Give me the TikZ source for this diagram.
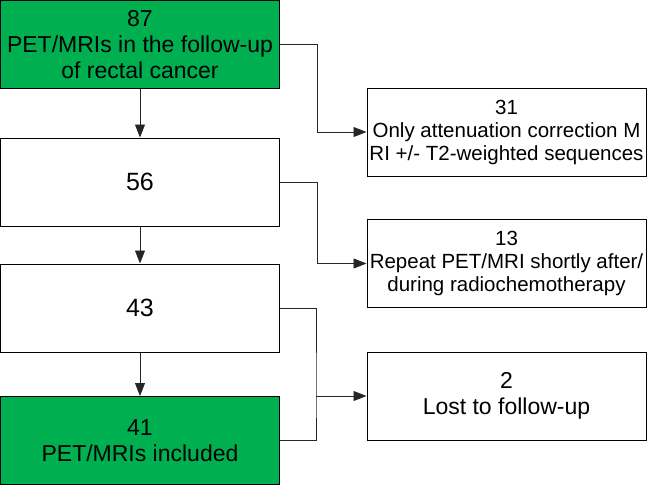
\documentclass[tikz,border=0pt]{standalone}
\usepackage{fontspec}
\setmainfont{Liberation Sans}
\usetikzlibrary{arrows.meta}
\definecolor{boxgreen}{HTML}{00B050}
\begin{document}
\begin{tikzpicture}[
            x=1pt, y=1pt,
            stage/.style={draw=black, line width=1pt, minimum width=279pt, minimum height=88pt,
                inner sep=0pt, align=center, font=\fontsize{23}{26}\selectfont},
            count/.style={stage, font=\fontsize{25}{28}\selectfont},
            kept/.style={stage, fill=boxgreen},
            excluded/.style={stage, font=\fontsize{20.5}{23}\selectfont},
            link/.style={draw=black!85, line width=0.9pt},
            flow/.style={link, -{Triangle[length=13pt, width=10pt]}},
        ]
            \useasboundingbox (0, 0) rectangle (648, -485);
            % left column
            \node[kept] (start) at (140, -44.5) {87\\PET/MRIs in the follow-up\\of rectal cancer};
            \node[count] (second) at (140, -182) {56};
            \node[count] (third) at (140, -308) {43};
            \node[kept] (final) at (140, -440.5) {41\\PET/MRIs included};
            \draw[flow] (start) -- (second);
            \draw[flow] (second) -- (third);
            \draw[flow] (third) -- (final);
            % right column
            \node[excluded] (attenuation) at (506.5, -132) {31\\Only attenuation correction M\\RI +/- T2-weighted sequences};
            \node[excluded] (repeat) at (506.5, -263.5) {13\\Repeat PET/MRI shortly after/\\during radiochemotherapy};
            \node[stage] (lost) at (506.5, -396) {2\\Lost to follow-up};
            \draw[flow] (start.east) -- ++(37, 0) |- (attenuation.west);
            \draw[flow] (second.east) -- ++(37, 0) |- (repeat.west);
            \coordinate (merge) at (316, -396);
            \draw[link] (third.east) -| (merge) |- (final.east);
            \draw[flow] (merge) -- (lost.west);
        \end{tikzpicture}
\end{document}
